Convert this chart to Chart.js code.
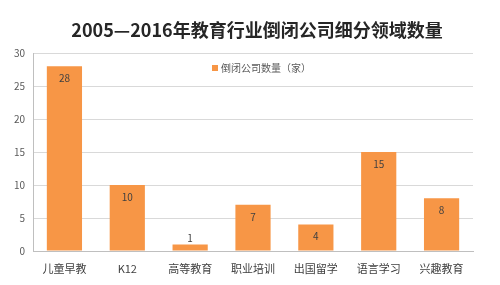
<!DOCTYPE html>
<html lang="zh">
  <head>
    <meta charset="UTF-8" />
    <title>教育行业倒闭公司</title>
    <script src="https://cdn.jsdelivr.net/npm/chart.js"></script>
    <style>
      html, body { margin: 0; padding: 0; background: #fff; }
      #wrap { width: 500px; height: 285px; position: relative; }
    </style>
  </head>
  <body>
    <div id="wrap"><canvas id="barChart"></canvas></div>
    <script>
      // data
      const categories = ["儿童早教", "K12", "高等教育", "职业培训", "出国留学", "语言学习", "兴趣教育"];
      const closedCounts = [28, 10, 1, 7, 4, 15, 8];
      const seriesName = "倒闭公司数量（家）";
      const chartTitle = "2005—2016年教育行业倒闭公司细分领域数量";
      const yMin = 0, yMax = 30, yStep = 5;

      const barColor = "#F79646";
      const cjk = '"Noto Sans CJK SC", "Noto Sans", sans-serif';

      // title, legend and value labels drawn straight on the canvas
      const extras = {
        id: "extras",
        afterDraw(chart) {
          const ctx = chart.ctx;
          const area = chart.chartArea;
          ctx.save();
          // title
          ctx.fillStyle = "#262626";
          ctx.font = "bold 18px " + cjk;
          ctx.textAlign = "center";
          ctx.textBaseline = "middle";
          ctx.fillText(chartTitle, 257, 30);
          // legend inside the plot
          ctx.fillStyle = barColor;
          ctx.fillRect(area.left + 179, area.top + 12, 6, 6);
          ctx.fillStyle = "#595959";
          ctx.font = "10px " + cjk;
          ctx.textAlign = "left";
          ctx.fillText(seriesName, area.left + 188, area.top + 15);
          ctx.restore();
        },
        afterDatasetsDraw(chart) {
          const ctx = chart.ctx;
          const meta = chart.getDatasetMeta(0);
          ctx.save();
          ctx.fillStyle = "#404040";
          ctx.font = "10px " + cjk;
          ctx.textAlign = "center";
          ctx.textBaseline = "middle";
          meta.data.forEach((bar, i) => {
            const h = bar.base - bar.y;
            const y = h > 20 ? bar.y + 12 : bar.y - 6;
            ctx.fillText(String(closedCounts[i]), bar.x, y);
          });
          ctx.restore();
        },
      };

      new Chart(document.getElementById("barChart"), {
        type: "bar",
        data: {
          labels: categories,
          datasets: [
            {
              label: seriesName,
              data: closedCounts,
              backgroundColor: barColor,
              barPercentage: 0.56,
              categoryPercentage: 1,
            },
          ],
        },
        options: {
          responsive: true,
          maintainAspectRatio: false,
          animation: false,
          layout: { padding: { top: 53, right: 27, left: 0, bottom: 0 } },
          plugins: {
            legend: { display: false },
            title: { display: false },
            tooltip: { enabled: false },
          },
          scales: {
            y: {
              min: yMin,
              max: yMax,
              ticks: {
                stepSize: yStep,
                color: "#595959",
                font: { size: 10, family: cjk },
                padding: 8,
              },
              grid: { color: "#d9d9d9", drawTicks: false },
              border: { color: "#bfbfbf" },
              afterFit(scale) { scale.width = 33; },
            },
            x: {
              ticks: {
                color: "#404040",
                font: { size: 11, family: cjk },
                padding: 3,
                maxRotation: 0,
              },
              grid: { display: false },
              border: { color: "#bfbfbf" },
              afterFit(scale) { scale.height = 34; },
            },
          },
        },
        plugins: [extras],
      });
    </script>
  </body>
</html>
